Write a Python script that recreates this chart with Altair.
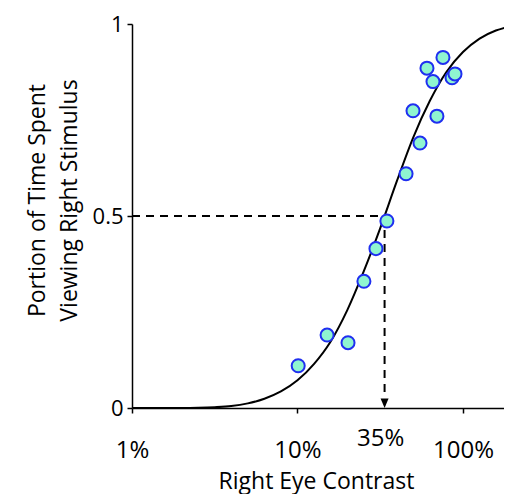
import altair as alt
import pandas as pd

# Observed data points (contrast %, proportion)
pt_contrast = [10.1, 15.1, 20.2, 25.2, 29.8, 34.7, 45.3, 55.0, 49.9, 69.6, 60.6, 65.9, 75.7, 85.9, 89.5]
pt_prop = [0.11, 0.19, 0.17, 0.33, 0.415, 0.487, 0.61, 0.69, 0.774, 0.76, 0.885, 0.85, 0.913, 0.86, 0.87]

# Fitted curve
cv_contrast = [1, 2.0, 2.51, 3.16, 3.98, 5.01, 6.31, 7.94, 10, 12.6, 15.8, 20.0, 25.1, 31.6,
               39.8, 50.1, 63.1, 79.4, 100, 126, 158, 198]
cv_prop = [0.0, 0.0, 0.0005, 0.002, 0.005, 0.012, 0.024, 0.043, 0.072, 0.115, 0.172, 0.255,
           0.355, 0.468, 0.59, 0.705, 0.80, 0.875, 0.927, 0.962, 0.983, 0.995]

# Threshold guide
thr_contrast = 33.6
thr_prop = 0.5
x_ticks = [1, 10, 100]
y_ticks = [0, 0.5, 1]

FONT = "Open Sans"

pts = pd.DataFrame({"c": pt_contrast, "p": pt_prop})
curve = pd.DataFrame({"c": cv_contrast, "p": cv_prop})
hline = pd.DataFrame({"c": [1], "c2": [thr_contrast], "p": [thr_prop]})
vline = pd.DataFrame({"c": [thr_contrast], "p": [thr_prop], "p2": [0.03]})
arrow = pd.DataFrame({"c": [thr_contrast], "p": [0.0]})
lab = pd.DataFrame({"c": [thr_contrast], "p": [-0.08], "t": ["35%"]})

xs = alt.Scale(type="log", domain=[1, 177])
ys = alt.Scale(domain=[0, 1])

xax = alt.Axis(values=x_ticks, labelExpr="datum.value + '%'", title="Right Eye Contrast",
               grid=False, tickSize=5, labelPadding=25, labelFontSize=24, titleFontSize=23,
               titleFontWeight="normal", titlePadding=8, labelFont=FONT, titleFont=FONT,
               domainColor="black", tickColor="black", labelColor="black", titleColor="black",
               domainWidth=1.5, tickWidth=1.5, titleX=184, labelFlush=False)
yax = alt.Axis(values=y_ticks, labelExpr="datum.value == 0.5 ? '0.5' : format(datum.value, 'd')",
               title=["Portion of Time Spent", "Viewing Right Stimulus"],
               grid=False, tickSize=5, labelPadding=4, labelFontSize=22, titleFontSize=23,
               titleFontWeight="normal", titlePadding=11, titleLineHeight=32, labelFont=FONT,
               titleFont=FONT, domainColor="black", tickColor="black", labelColor="black",
               titleColor="black", domainWidth=1.5, tickWidth=1.5, titleY=176, labelFlush=False)

base_x = alt.X("c:Q", scale=xs, axis=xax)
base_y = alt.Y("p:Q", scale=ys, axis=yax)

curve_l = alt.Chart(curve).mark_line(color="black", strokeWidth=2, interpolate="monotone",
                                     clip=True).encode(x=base_x, y=base_y)

h = alt.Chart(hline).mark_rule(color="black", strokeWidth=2, strokeDash=[8, 6]).encode(
    x=alt.X("c:Q", scale=xs), x2="c2:Q", y=alt.Y("p:Q", scale=ys))
v = alt.Chart(vline).mark_rule(color="black", strokeWidth=2, strokeDash=[8, 6]).encode(
    x=alt.X("c:Q", scale=xs), y=alt.Y("p:Q", scale=ys), y2="p2:Q")
arr = alt.Chart(arrow).mark_point(shape="M-1,-2.4L1,-2.4L0,0Z", size=64, filled=True,
                                  color="black", opacity=1).encode(
    x=alt.X("c:Q", scale=xs), y=alt.Y("p:Q", scale=ys))
txt = alt.Chart(lab).mark_text(font=FONT, fontSize=24, color="black", baseline="middle",
                               dx=-4).encode(
    x=alt.X("c:Q", scale=xs), y=alt.Y("p:Q", scale=ys), text="t:N")

dots = alt.Chart(pts).mark_point(shape="circle", filled=True, size=170, fill="#8ff5d0",
                                 stroke="#1f2ff0", strokeWidth=2, opacity=1).encode(
    x=alt.X("c:Q", scale=xs), y=alt.Y("p:Q", scale=ys))

chart = alt.layer(curve_l, h, v, arr, txt, dots).properties(
    width=372, height=384,
    autosize=alt.AutoSizeParams(type="none"),
    padding={"left": 124, "top": 16, "right": 0, "bottom": 86},
    background="white",
).configure_view(stroke=None)

chart.save("out.html", embed_options={"renderer": "svg", "actions": False})
